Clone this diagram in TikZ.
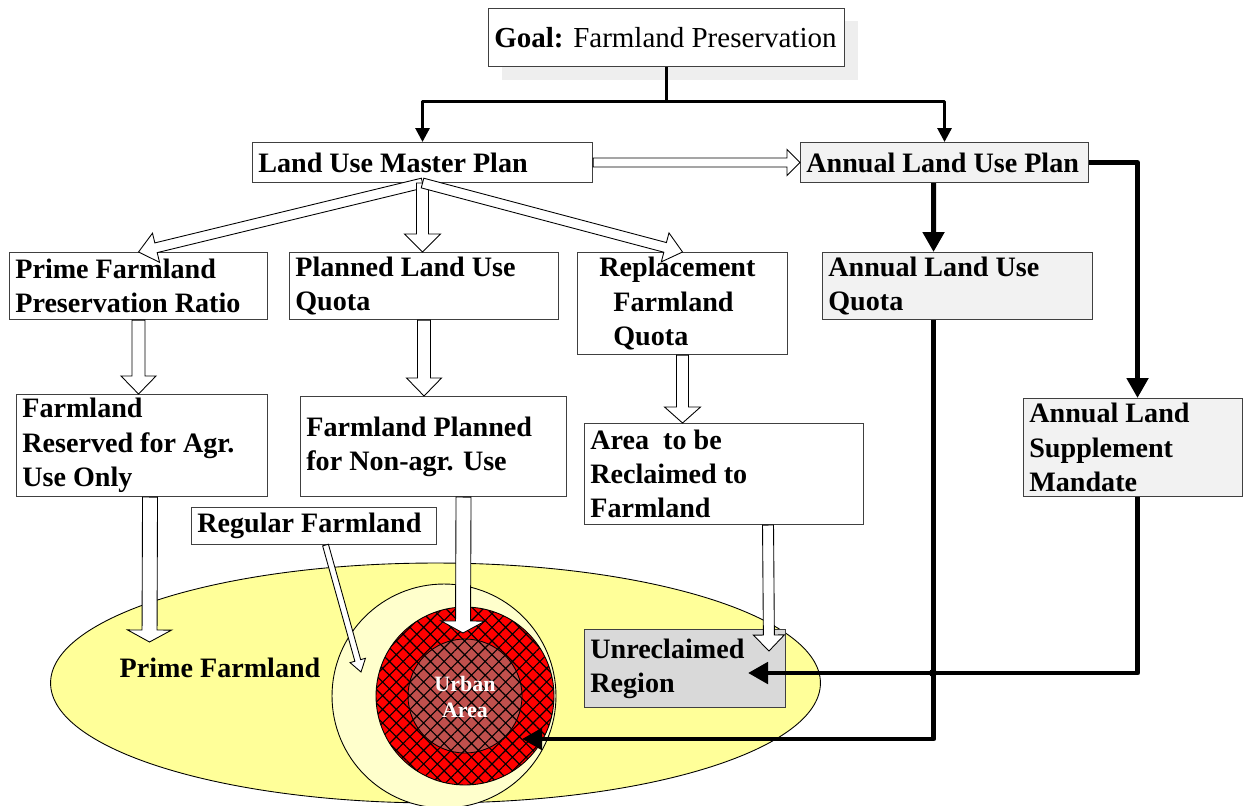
\documentclass[tikz,border=0pt]{standalone}
\usepackage{fontspec}
\setmainfont{Liberation Serif}
\usetikzlibrary{calc,arrows.meta,patterns.meta}
\definecolor{ylw}{HTML}{FFFF99}
\definecolor{ltylw}{HTML}{FFFFCC}
\definecolor{urb}{HTML}{C0504D}
\definecolor{boxgrey}{HTML}{F2F2F2}
\definecolor{unrgrey}{HTML}{D9D9D9}
\definecolor{shadowgrey}{HTML}{EEEEEE}

% box: name, x1, y1, x2, y2 (px), box style, text
\newcommand\bx[7]{%
  \pgfmathsetmacro\bxw{(#4-#2)*0.02}%
  \pgfmathsetmacro\bxh{(#5-#3)*0.02}%
  \node[#6, anchor=north west, minimum width=\bxw cm, minimum height=\bxh cm] (#1) at (#2,#3) {};
  \node[boxtext, anchor=west] (#1-t) at ([xshift=0.12cm]#1.west) {#7};
}

% hollow block arrow: start, end, shaft half width, head half width, head length (px)
\newcommand\harrow[5]{%
  \coordinate (hA) at #1;
  \coordinate (hB) at #2;
  \coordinate (hC) at ($(hB)!#5*0.02cm!(hA)$);
  \draw[hollow] ($(hA)!#3*0.02cm!90:(hB)$) -- ($(hC)!#3*0.02cm!90:(hB)$)
    -- ($(hC)!#4*0.02cm!90:(hB)$) -- (hB) -- ($(hC)!#4*0.02cm!-90:(hB)$)
    -- ($(hC)!#3*0.02cm!-90:(hB)$) -- ($(hA)!#3*0.02cm!-90:(hB)$) -- cycle;
}

\tikzset{
  box/.style={draw=black!75, line width=0.6pt, fill=white, inner sep=0pt},
  gbox/.style={box, fill=boxgrey},
  ubox/.style={box, fill=unrgrey},
  boxtext/.style={font=\bfseries\fontsize{16}{19.5}\selectfont, align=left, inner sep=0pt},
  hollow/.style={draw=black, line width=0.5pt, fill=white, line join=miter},
  bigline/.style={line width=2.8pt, line join=round,
    -{Triangle[length=0.4cm,width=0.42cm]}},
  topline/.style={line width=1.7pt, line join=round,
    -{Triangle[length=0.28cm,width=0.28cm]}},
  hatch/.style={pattern={Hatch[angle=45,distance=5.5pt,line width=0.65pt]}, pattern color=black},
}

\begin{document}
\begin{tikzpicture}[x=0.02cm, y=-0.02cm]
\useasboundingbox (0,0) rectangle (1244,805);
\fill[white] (0,0) rectangle (1244,805);

% ---- region drawing ----
\draw[fill=ylw, line width=0.5pt] (435.5,683) ellipse [x radius=7.7cm, y radius=2.4cm];
\node[circle, draw, line width=0.5pt, fill=ltylw, minimum size=4.48cm, inner sep=0pt] (regc) at (444,696) {};
\node[circle, draw, line width=0.5pt, preaction={fill=red}, hatch,
  minimum size=3.56cm, inner sep=0pt] (redc) at (465,696) {};
\node[circle, draw, line width=0.5pt, preaction={fill=urb}, hatch,
  minimum size=2.28cm, inner sep=0pt] (urbc) at (465,696) {};
\node[font=\bfseries\fontsize{12.5}{14.5}\selectfont, text=white, align=center] (urbtxt) at (465,697) {Urban\\Area};
\node[font=\bfseries\fontsize{16}{19.5}\selectfont] (pflabel) at (220,668) {Prime Farmland};

% ---- boxes ----
\fill[shadowgrey] (502,21) rectangle (858,80);
\bx{goal}{488}{8}{844}{66}{box}{\fontsize{16.5}{20}\selectfont Goal: {\mdseries Farmland Preservation}}
\bx{lump}{252}{142}{592}{182}{box}{Land Use Master Plan}
\bx{alup}{800}{142}{1088}{182}{gbox}{Annual Land Use Plan}
\bx{prime}{9}{252}{267}{319}{box}{Prime Farmland\\Preservation Ratio}
\bx{plq}{289}{252}{558}{319}{box}{Planned Land Use\\Quota}
\bx{repl}{577}{252}{787}{354}{box}{\hspace*{0.32cm}Replacement\\\hspace*{0.6cm}Farmland\\\hspace*{0.6cm}Quota}
\bx{aluq}{822}{252}{1092}{319}{gbox}{Annual Land Use\\Quota}
\bx{frsv}{16}{394}{267}{496}{box}{Farmland\\Reserved for Agr.\\Use Only}
\bx{fpl}{300}{396}{566}{496}{box}{Farmland Planned\\for Non-agr. Use}
\bx{area}{584}{423}{863}{524}{box}{Area\ \ to be\\Reclaimed to\\Farmland}
\bx{alsm}{1023}{398}{1242}{496}{gbox}{Annual Land\\Supplement\\Mandate}
\bx{reg}{191}{507}{436}{544}{box}{Regular Farmland}
\bx{unrec}{584}{629}{785}{707}{ubox}{Unreclaimed\\Region}

% ---- free arrow ends ----
\coordinate (pft) at (149.5,642);
\coordinate (fpt) at (463,633);
\coordinate (art) at (769,651);
\coordinate (rgt) at (361,672);
\coordinate (ut1) at (522,739);
\coordinate (ut2) at (748,673);

% ---- hollow arrows ----
\harrow{(lump.east)}{(alup.west)}{4.5}{13}{13}
\harrow{(lump.south)}{(prime.north)}{5}{15}{18}
\harrow{(lump.south)}{(plq.north -| lump.south)}{6}{18}{18}
\harrow{(lump.south)}{(repl.north)}{5}{15}{18}
\harrow{(prime.south)}{(prime.south |- frsv.north)}{6.5}{17.5}{18}
\harrow{(plq.south)}{(plq.south |- fpl.north)}{6.5}{17.5}{18}
\harrow{(repl.south)}{(repl.south |- area.north)}{6}{18}{16}
\harrow{([xshift=0.16cm]frsv.south)}{(pft)}{7.5}{22}{12}
\harrow{([xshift=0.6cm]fpl.south)}{(fpt)}{7.5}{22}{12}
\harrow{([xshift=0.88cm]area.south)}{(art)}{5.5}{15.5}{16}
\harrow{([xshift=0.23cm]reg.south)}{(rgt)}{3}{8}{12}

% ---- solid connectors ----
\coordinate (j) at ($(goal.south)+(0,34)$);
\draw[line width=1.7pt] (goal.south) -- (j);
\draw[topline] (j) -| (lump.north);
\draw[topline] (j) -| (alup.north);
\draw[bigline] ([xshift=-0.22cm]alup.south) -- ([xshift=-0.48cm]aluq.north);
\draw[bigline] (alup.east) -| ([xshift=0.09cm]alsm.north);
\draw[bigline] ([xshift=0.09cm]alsm.south) |- (ut2);
\draw[bigline] ([xshift=-0.48cm]aluq.south) |- (ut1);
\fill (933,673) circle (0.08cm);
\end{tikzpicture}
\end{document}
